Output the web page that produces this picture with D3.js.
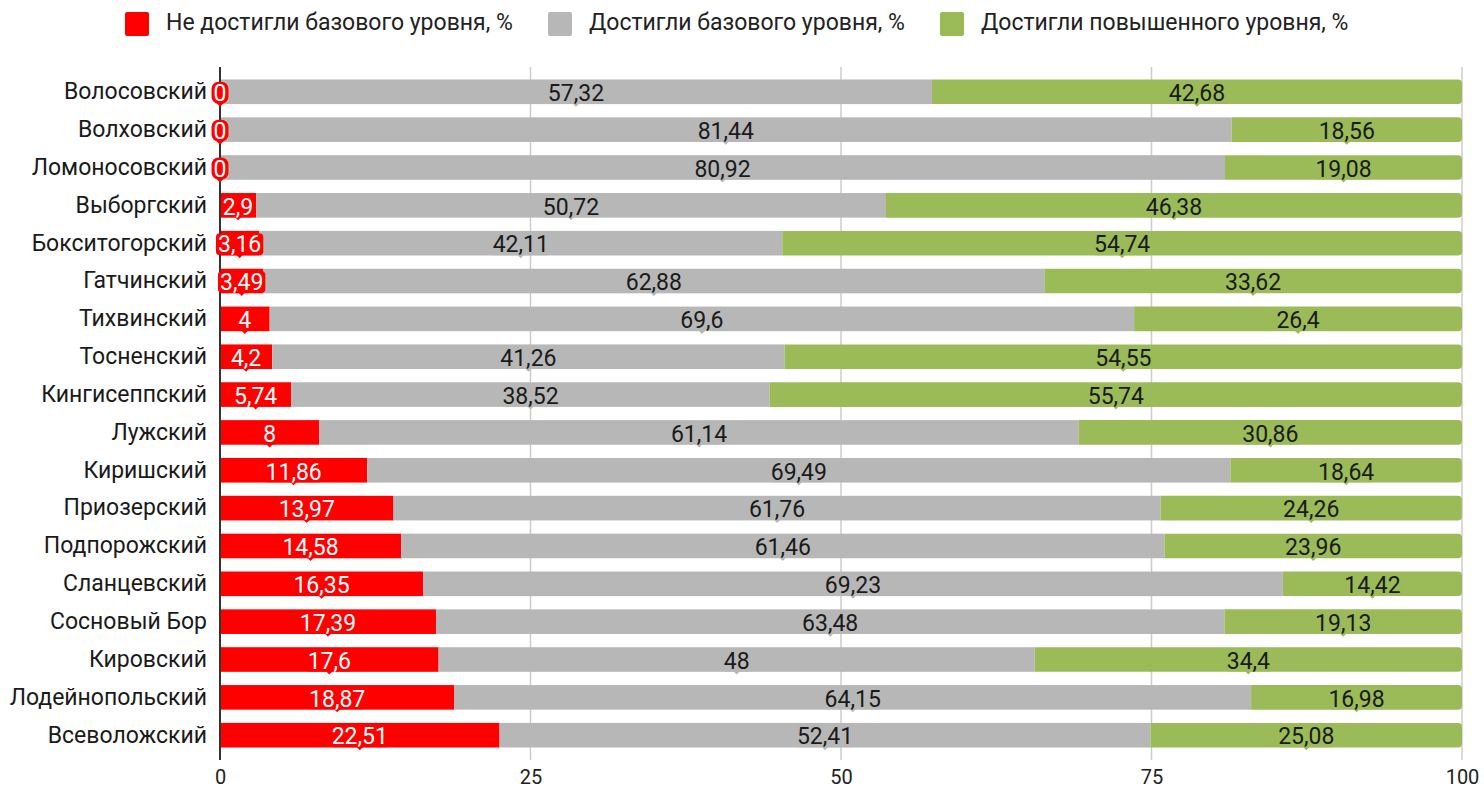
<!DOCTYPE html>
<html>
<head>
<meta charset="utf-8">
<script src="https://cdn.jsdelivr.net/npm/d3@7"></script>
<style>
  html, body { margin: 0; padding: 0; background: #fff; }
  svg { display: block; font-family: Roboto, "Noto Sans", sans-serif; }
</style>
</head>
<body>
<svg id="chart" width="1484" height="793"></svg>
<script>
// Районы и доли учащихся по уровням достижений, %
const districts = [
  "Волосовский", "Волховский", "Ломоносовский", "Выборгский", "Бокситогорский",
  "Гатчинский", "Тихвинский", "Тосненский", "Кингисеппский", "Лужский",
  "Киришский", "Приозерский", "Подпорожский", "Сланцевский", "Сосновый Бор",
  "Кировский", "Лодейнопольский", "Всеволожский"
];
const belowBasic = [0, 0, 0, 2.9, 3.16, 3.49, 4, 4.2, 5.74, 8, 11.86, 13.97, 14.58, 16.35, 17.39, 17.6, 18.87, 22.51];
const basic = [57.32, 81.44, 80.92, 50.72, 42.11, 62.88, 69.6, 41.26, 38.52, 61.14, 69.49, 61.76, 61.46, 69.23, 63.48, 48, 64.15, 52.41];
const advanced = [42.68, 18.56, 19.08, 46.38, 54.74, 33.62, 26.4, 54.55, 55.74, 30.86, 18.64, 24.26, 23.96, 14.42, 19.13, 34.4, 16.98, 25.08];

const seriesNames = ["Не достигли базового уровня, %", "Достигли базового уровня, %", "Достигли повышенного уровня, %"];
const seriesColors = ["#ff0000", "#b7b7b7", "#9bbb59"];
const labelColors = ["#ffffff", "#1a1a1a", "#1a1a1a"];
const xTicks = [0, 25, 50, 75, 100];

const svg = d3.select("#chart");
const margin = { left: 220, right: 22, top: 67, bottom: 33 };
const W = 1484, H = 793;

const x = d3.scaleLinear().domain([0, 100]).range([margin.left, W - margin.right]);
const y = d3.scaleBand().domain(districts).range([margin.top, H - margin.bottom])
  .paddingInner(0.35).paddingOuter(0.33);

// rows: per district, three stacked segments
const seriesValues = [belowBasic, basic, advanced];
const rows = districts.map((d, i) => {
  let acc = 0;
  const segs = seriesValues.map((vals, s) => {
    const v = vals[i];
    const seg = { district: d, s, v, x0: acc, x1: acc + v };
    acc += v;
    return seg;
  });
  return { district: d, segs };
});

// gridlines
svg.append("g").selectAll("line")
  .data(xTicks.filter(t => t > 0))
  .join("line")
  .attr("x1", d => x(d)).attr("x2", d => x(d))
  .attr("y1", margin.top).attr("y2", H - margin.bottom)
  .attr("stroke", "#cccccc").attr("stroke-width", 1.5);

// x axis tick labels
const xAxis = d3.axisBottom(x).tickValues(xTicks).tickSize(0).tickPadding(0)
  .tickFormat(d3.format("d"));
const gx = svg.append("g").attr("transform", `translate(0,${H - margin.bottom + 8})`).call(xAxis);
gx.select(".domain").remove();
gx.selectAll("text").attr("font-size", 20).attr("fill", "#222").attr("dy", "0.8em")
  .style("font-family", "Roboto, sans-serif");

// y axis category labels
const yAxis = d3.axisLeft(y).tickSize(0).tickPadding(13);
const gy = svg.append("g").attr("transform", `translate(${margin.left},0)`).call(yAxis);
gy.select(".domain").remove();
gy.selectAll("text").attr("font-size", 23).attr("fill", "#1a1a1a")
  .style("font-family", "Roboto, sans-serif");

// bars
const bh = y.bandwidth();
function roundedRight(x0, y0, w, h, r) {
  r = Math.min(r, w);
  return `M${x0},${y0}H${x0 + w - r}Q${x0 + w},${y0} ${x0 + w},${y0 + r}V${y0 + h - r}Q${x0 + w},${y0 + h} ${x0 + w - r},${y0 + h}H${x0}Z`;
}
const barG = svg.append("g");
rows.forEach(r => {
  r.segs.forEach(seg => {
    if (seg.v <= 0) return;
    const x0 = x(seg.x0), w = x(seg.x1) - x(seg.x0), y0 = y(r.district);
    if (seg.s === 2) {
      barG.append("path").attr("d", roundedRight(x0, y0, w, bh, 4)).attr("fill", seriesColors[seg.s]);
    } else {
      barG.append("rect").attr("x", x0).attr("y", y0).attr("width", w).attr("height", bh)
        .attr("fill", seriesColors[seg.s]);
    }
  });
});

// axis line at zero
svg.append("line").attr("x1", x(0)).attr("x2", x(0))
  .attr("y1", margin.top).attr("y2", H - margin.bottom)
  .attr("stroke", "#333").attr("stroke-width", 2);

// value labels with callout boxes
const fmt = v => String(v).replace(".", ",");
const labG = svg.append("g");
rows.forEach(r => {
  r.segs.forEach(seg => {
    const cx = x((seg.x0 + seg.x1) / 2);
    const cy = y(r.district) + bh / 2 + 1;
    const g = labG.append("g");
    const t = g.append("text").attr("x", cx).attr("y", cy)
      .attr("text-anchor", "middle").attr("dy", "0.36em")
      .attr("font-size", 23).attr("fill", labelColors[seg.s])
      .text(fmt(seg.v));
    const tw = t.node().getComputedTextLength();
    const bw = tw + 4, bhh = 22;
    const col = seriesColors[seg.s];
    g.insert("path", "text")
      .attr("d", `M${cx - 4},${cy + bhh / 2 - 1}L${cx + 4},${cy + bhh / 2 - 1}L${cx},${cy + bhh / 2 + 3}Z`)
      .attr("fill", col);
    g.insert("rect", "text")
      .attr("x", cx - bw / 2).attr("y", cy - bhh / 2)
      .attr("width", bw).attr("height", bhh)
      .attr("rx", seg.v === 0 ? 7 : 4)
      .attr("fill", col);
  });
});

// legend
const legendX = [125, 548, 940];
const lg = svg.append("g");
seriesNames.forEach((name, i) => {
  lg.append("rect").attr("x", legendX[i]).attr("y", 12).attr("width", 24).attr("height", 24)
    .attr("rx", 2).attr("fill", seriesColors[i]);
  lg.append("text").attr("x", legendX[i] + 41).attr("y", 29.5)
    .attr("font-size", 23).attr("fill", "#222").text(name);
});
</script>
</body>
</html>
